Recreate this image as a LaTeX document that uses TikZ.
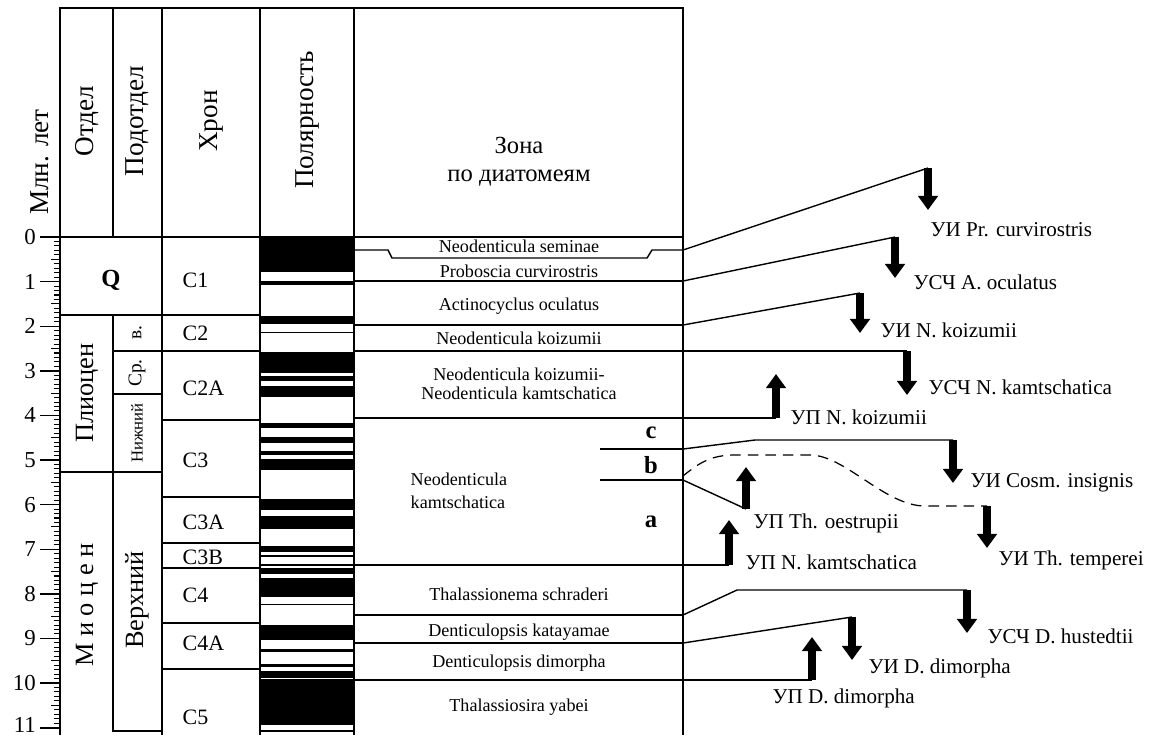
\documentclass[tikz,border=0pt]{standalone}
\usepackage{fontspec}
\setmainfont{Liberation Serif}
\usetikzlibrary{arrows.meta}

\tikzset{
  hdr/.style={rotate=90,font=\fontsize{15.5}{18}\selectfont},
  per/.style={rotate=90,font=\fontsize{15}{18}\selectfont},
  chron/.style={anchor=west,inner sep=0pt,font=\fontsize{12.5}{14}\selectfont},
  zone/.style={align=center,inner sep=0pt,font=\fontsize{10.3}{11}\selectfont},
  event/.style={anchor=west,inner sep=0pt,font=\fontsize{12}{14}\selectfont},
  sub/.style={font=\bfseries\fontsize{14}{16}\selectfont,inner sep=0pt},
  tick/.style={anchor=east,inner sep=2pt,font=\fontsize{13}{14}\selectfont},
  fall/.style={line width=4.5pt,-{Triangle[length=8pt,width=11pt]}},
}

\begin{document}
\begin{tikzpicture}[x=0.02cm,y=-0.02cm,line width=0.8pt]
	\useasboundingbox (0,0) rectangle (1155,735);
	% polarity, Ma
	\foreach \a / \b in {0/0.78,0.99/1.07,1.77/1.95,2.14/2.15,2.581/3.04,3.11/3.22,3.33/3.58,4.18/4.29,4.48/4.62,4.8/4.89,4.98/5.23,5.875/6.122,6.256/6.555,6.919/7.072,7.135/7.17,7.341/7.375,7.432/7.562,7.65/8.072,8.225/8.257,8.699/9.025,9.23/9.308,9.58/9.642,9.74/9.88,9.92/10.949,11.052/11.099} { \fill ({260},{237+44.6*\a}) rectangle ({354},{237+44.6*\b});}
	% scale
	\foreach \i in {1,...,110} { \draw[line width=0.6pt] (54,{237+4.46*\i}) -- (60,{237+4.46*\i});}
	\foreach \i in {0,...,10} { \draw[line width=0.6pt] (51,{237+44.6*(\i+0.5)}) -- (60,{237+44.6*(\i+0.5)});}
	\foreach \t in {0,...,10} { \draw (40,{237+44.6*\t}) -- (60,{237+44.6*\t}) node[tick,pos=0] (t\t) {\t};}
	\draw (40,728) -- (60,728);
	\node[tick] (t11) at (40,725) {11};
	% frame
	\draw (60,735) -- (60,8) -- (683,8) -- (683,735);
	\foreach \x in {162,260,354} { \draw (\x,8) -- (\x,735);}
	\draw (113,8) -- (113,237);
	\draw (113,315) -- (113,731) -- (162,731);
	\draw (60,237) -- (683,237);
	\foreach \a / \b / \y in {60/260/315,113/260/351,113/162/394,162/260/420,60/162/472,162/260/497,162/260/543,162/260/568,162/260/623,162/260/669} { \draw (\a,\y) -- (\b,\y);}
	% header
	\node[hdr] (mln) at (40,162) {Млн. лет};
	\node[hdr] (otdel) at (87,121) {Отдел};
	\node[hdr] (podotdel) at (137,121) {Подотдел};
	\node[hdr] (hron) at (211,121) {Хрон};
	\node[hdr] (polar) at (307,120) {Полярность};
	\node[align=center,font=\fontsize{14}{16}\selectfont] (zona) at (519,162) {Зона\\по диатомеям};
	% epochs
	\node[sub] (q) at (111,280) {Q};
	\node[per] (plio) at (87,393) {Плиоцен};
	\node[per] (mio) at (87,605) {М и о ц е н};
	\node[rotate=90,font=\fontsize{11}{12}\selectfont] (pv) at (137,333) {в.};
	\node[rotate=90,font=\fontsize{11}{12}\selectfont] (psr) at (137,373) {Ср.};
	\node[rotate=90,font=\fontsize{9.5}{11}\selectfont] (pn) at (137,433) {Нижний};
	\node[per] (pvr) at (137,600) {Верхний};
	\foreach \c / \y in {C1/280,C2/333,C2A/388,C3/460,C3A/522,C3B/557,C4/595,C4A/643,C5/717} { \node[chron] (\c) at (182,\y) {\c};}
	% zones
	\draw (354,250) -- (388,250) -- (392,258) -- (647,258) -- (652,250) -- (683,250) coordinate (zs);
	\foreach \n / \y in {zp/281,za/325,zk/351,zkk/418,zt/565,zd/615,zm/643,zy/680} { \draw (354,\y) -- (683,\y) coordinate (\n);}
	\draw (600,449) -- (683,449) coordinate (zc);
	\draw (600,480) -- (683,480) coordinate (zb);
	\coordinate (zb2) at (683,476);
	\node[zone] (n1) at (519,246) {Neodenticula seminae};
	\node[zone] (n2) at (519,271) {Proboscia curvirostris};
	\node[zone] (n3) at (519,306) {Actinocyclus oculatus};
	\node[zone] (n4) at (519,338) {Neodenticula koizumii};
	\node[zone] (n5) at (519,384) {Neodenticula koizumii-\\Neodenticula kamtschatica};
	\node[zone,align=left,anchor=west,font=\fontsize{10.3}{13}\selectfont] (n6) at (410,491) {Neodenticula\\kamtschatica};
	\node[zone] (n7) at (519,594) {Thalassionema schraderi};
	\node[zone] (n8) at (519,632) {Denticulopsis katayamae};
	\node[zone] (n9) at (519,663) {Denticulopsis dimorpha};
	\node[zone] (n10) at (519,707) {Thalassiosira yabei};
	\node[sub] (c) at (651,433) {c};
	\node[sub] (b) at (651,465) {b};
	\node[sub] (a) at (651,522) {a};
	% datum levels
	\foreach \n / \x / \y / \z in {prc/928/168/210,aoc/895/237/278,nkoz/860/293/333,nkam/907/351/395,cosm/953/440/483,temp/987/506/548,hust/967/590/633,dimi/852/617/660,koz/776/418/374,oes/746/509/467,kam/729/565/520,dimp/812/680/637} { \coordinate (\n) at (\x,\y); \draw[fall] (\n) -- (\x,\z);}
	\draw (zs) -- (prc);
	\draw (zp) -- (aoc);
	\draw (za) -- (nkoz);
	\draw (zk) -- (nkam);
	\draw (zkk) -- (koz);
	\draw (zc) -- (755,440) -- (cosm);
	\draw[dashed,dash pattern=on 6pt off 4pt,line width=0.7pt] (zb2) .. controls (700,462) and (712,455) .. (735,455) -- (810,455) .. controls (845,455) and (885,506) .. (925,506) -- (temp);
	\draw (zb) -- (oes);
	\draw (zt) -- (kam);
	\draw (zd) -- (737,590) -- (hust);
	\draw (zm) -- (dimi);
	\draw (zy) -- (dimp);
	\node[event] (l1) at (930,230) {УИ Pr. curvirostris};
	\node[event] (l2) at (913,282) {УСЧ A. oculatus};
	\node[event] (l3) at (880,330) {УИ N. koizumii};
	\node[event] (l4) at (928,387) {УСЧ N. kamtschatica};
	\node[event] (l5) at (790,417) {УП N. koizumii};
	\node[event] (l6) at (970,483) {УИ Cosm. insignis};
	\node[event] (l7) at (753,523) {УП Th. oestrupii};
	\node[event] (l8) at (745,562) {УП N. kamtschatica};
	\node[event] (l9) at (998,560) {УИ Th. temperei};
	\node[event] (l10) at (987,636) {УСЧ D. hustedtii};
	\node[event] (l11) at (868,668) {УИ D. dimorpha};
	\node[event] (l12) at (772,698) {УП D. dimorpha};
\end{tikzpicture}
\end{document}
